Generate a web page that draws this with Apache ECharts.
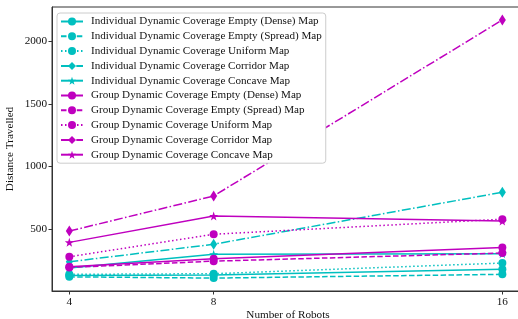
<!DOCTYPE html>
<html><head><meta charset="utf-8">
<script src="https://cdn.jsdelivr.net/npm/echarts@6/dist/echarts.min.js"></script>
<style>html,body{margin:0;padding:0;background:#fff}#c{width:518px;height:319px}</style>
</head><body><div id="c"></div>
<script>
const robots = [4, 8, 16];
const seriesNames = [
  "Individual Dynamic Coverage Empty (Dense) Map",
  "Individual Dynamic Coverage Empty (Spread) Map",
  "Individual Dynamic Coverage Uniform Map",
  "Individual Dynamic Coverage Corridor Map",
  "Individual Dynamic Coverage Concave Map",
  "Group Dynamic Coverage Empty (Dense) Map",
  "Group Dynamic Coverage Empty (Spread) Map",
  "Group Dynamic Coverage Uniform Map",
  "Group Dynamic Coverage Corridor Map",
  "Group Dynamic Coverage Concave Map"
];
const indivDense    = [130, 135, 180];
const indivSpread   = [120, 110, 140];
const indivUniform  = [140, 145, 230];
const indivCorridor = [240, 380, 795];
const indivConcave  = [190, 300, 305];
const groupDense    = [200, 265, 355];
const groupSpread   = [195, 245, 310];
const groupUniform  = [280, 460, 580];
const groupCorridor = [485, 765, 2170];
const groupConcave  = [395, 605, 565];
const yTicks = [500, 1000, 1500, 2000];
const xTicks = [4, 8, 16];

const allValues = [indivDense, indivSpread, indivUniform, indivCorridor, indivConcave,
                   groupDense, groupSpread, groupUniform, groupCorridor, groupConcave];

const CYAN = '#00bfbf', MAG = '#bf00bf';
const STAR = 'path://M0,-10 L2.35,-3.24 L9.51,-3.09 L3.8,1.24 L5.88,8.09 L0,4 L-5.88,8.09 L-3.8,1.24 L-9.51,-3.09 L-2.35,-3.24 Z';
const styles = [
  {type:'solid', sym:'circle', size:8},
  {type:[5.5,2.4], sym:'circle', size:8},
  {type:[1.5,2.5], sym:'circle', size:8},
  {type:[9,2.4,1.5,2.4], sym:'diamond', size:[7,11]},
  {type:'solid', sym:STAR, size:9}
];
const FONT = 'Liberation Serif';

const series = allValues.map((vals, i) => {
  const st = styles[i % 5];
  const col = i < 5 ? CYAN : MAG;
  return {
    name: seriesNames[i],
    type: 'line',
    data: robots.map((r, k) => [r, vals[k]]),
    symbol: st.sym,
    symbolSize: st.size,
    showAllSymbol: true,
    itemStyle: {color: col},
    lineStyle: {color: col, width: 1.5, type: st.type},
    emphasis: {disabled: true},
    animation: false
  };
});

const chart = echarts.init(document.getElementById('c'), null, {renderer:'canvas'});
chart.setOption({
  animation: false,
  backgroundColor: '#fff',
  grid: {left: 52, width: 472, top: 7, height: 284, outerBoundsMode: 'none', containLabel: false,
         show: true, borderColor: '#333', borderWidth: 1},
  legend: {
    orient: 'vertical', left: 57, top: 13,
    itemWidth: 22, itemHeight: 10, itemGap: 3.8,
    padding: [3, 4, 3, 3],
    backgroundColor: '#fff', borderColor: '#ccc', borderWidth: 1, borderRadius: 3,
    textStyle: {fontFamily: FONT, fontSize: 11.1, color: '#111', padding: [0,0,0,3]},
    data: seriesNames
  },
  xAxis: {
    type: 'value', min: 3.52, max: 16.6,
    name: 'Number of Robots', nameLocation: 'middle', nameGap: 19, nameMoveOverlap: false,
    nameTextStyle: {fontFamily: FONT, fontSize: 11.2, color: '#111'},
    axisLine: {show: true, lineStyle: {color: '#333', width: 1}},
    axisTick: {show: true, length: 3.5, customValues: xTicks, lineStyle: {color: '#333'}},
    axisLabel: {customValues: xTicks, fontFamily: FONT, fontSize: 11.2, color: '#111', margin: 6},
    splitLine: {show: false}
  },
  yAxis: {
    type: 'value', min: 7, max: 2273,
    name: 'Distance Travelled', nameLocation: 'middle', nameGap: 36, nameRotate: 90, nameMoveOverlap: false,
    nameTextStyle: {fontFamily: FONT, fontSize: 11.2, color: '#111'},
    axisLine: {show: true, lineStyle: {color: '#333', width: 1}},
    axisTick: {show: true, length: 3.5, customValues: yTicks, lineStyle: {color: '#333'}},
    axisLabel: {customValues: yTicks, formatter: v => String(v), fontFamily: FONT, fontSize: 11.2, color: '#111', margin: 5},
    splitLine: {show: false}
  },
  series: series
});
</script></body></html>
